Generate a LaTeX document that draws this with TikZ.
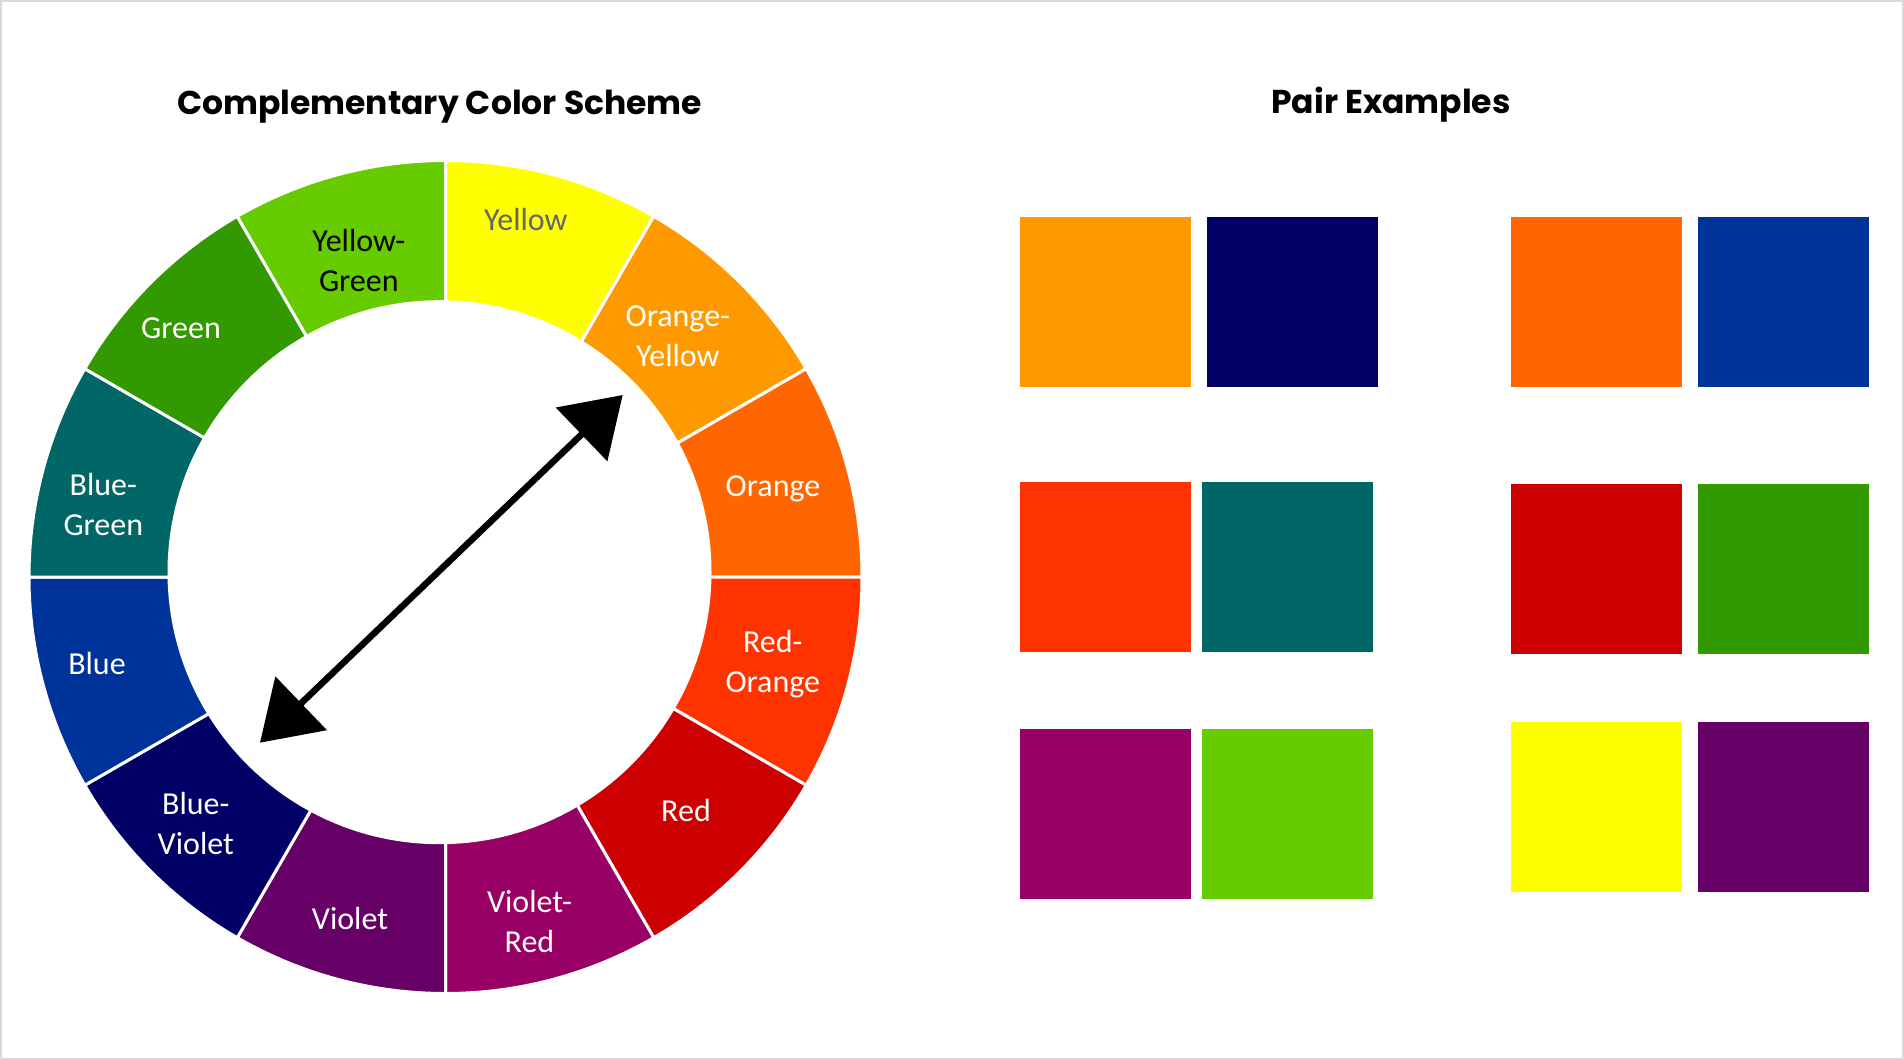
\documentclass[tikz,border=0pt]{standalone}
\usepackage{fontspec}
\setmainfont{Carlito}
\newfontfamily\titrefont{Poppins}
\usetikzlibrary{arrows.meta}

\definecolor{cadre}{HTML}{D9D9D9}
\definecolor{jaune}{HTML}{FFFF00}
\definecolor{orangejaune}{HTML}{FF9900}
\definecolor{orange}{HTML}{FF6600}
\definecolor{rougeorange}{HTML}{FF3300}
\definecolor{rouge}{HTML}{CC0000}
\definecolor{violetrouge}{HTML}{990066}
\definecolor{violet}{HTML}{660066}
\definecolor{bleuviolet}{HTML}{000066}
\definecolor{bleu}{HTML}{003399}
\definecolor{bleuvert}{HTML}{006666}
\definecolor{vert}{HTML}{339900}
\definecolor{jaunevert}{HTML}{66CC00}
\definecolor{grisjaune}{RGB}{100,100,110}

\tikzset{
  titre/.style={font=\titrefont\bfseries\fontsize{33}{40}\selectfont, anchor=base, inner sep=0pt},
  etiquette/.style={text=white, font=\fontsize{32}{40}\selectfont, align=center, anchor=base, inner sep=0pt},
  secteur/.style={draw=white, line width=3pt},
  carre/.style={inner sep=0pt, minimum width=170.6pt, minimum height=170pt, anchor=north west},
  fleche/.style={line width=6.5pt, {Triangle[length=57pt,width=73pt]}-{Triangle[length=57pt,width=73pt]}}
}

\begin{document}
\begin{tikzpicture}[x=1pt,y=-1pt]
\useasboundingbox (0,0) rectangle (1904,1060);

%cadre de la page
\draw[cadre, line width=2pt] (1,1) rectangle (1903,1059);

%titres
\node[titre] (titreRoue) at (439.6,114) {Complementary Color Scheme};
\node[titre] (titrePaires) at (1391,113) {Pair Examples};

%roue des couleurs
\coordinate (centre) at (445.5,577);
\coordinate (trou) at (439.5,572.2);
\begin{scope}[shift={(centre)}]
\foreach \a/\c in {90/jaune, 60/orangejaune, 30/orange, 0/rougeorange,
                   -30/rouge, -60/violetrouge, -90/violet, -120/bleuviolet,
                   -150/bleu, -180/bleuvert, -210/vert, -240/jaunevert}
  \filldraw[secteur, fill=\c] (0,0) -- (-\a:416.5)
    arc[start angle=-\a, end angle=-\a+30, radius=416.5] -- cycle;
\end{scope}
%trou central
\fill[white] (trou) circle (272);

%noms des secteurs
\node[etiquette, text=grisjaune] (eJaune) at (525.8,230) {Yellow};
\node[etiquette] (eOrangeJaune) at (677.8,366.7) {Orange-\\Yellow};
\node[etiquette] (eOrange) at (773,496.7) {Orange};
\node[etiquette] (eRougeOrange) at (772.8,692.7) {Red-\\Orange};
\node[etiquette] (eRouge) at (686,821.7) {Red};
\node[etiquette] (eVioletRouge) at (529.5,952.7) {Violet-\\Red};
\node[etiquette] (eViolet) at (350,929.3) {Violet};
\node[etiquette] (eBleuViolet) at (195.8,854) {Blue-\\Violet};
\node[etiquette] (eBleu) at (97,674) {Blue};
\node[etiquette] (eBleuVert) at (103.3,535) {Blue-\\Green};
\node[etiquette] (eVert) at (181,338.3) {Green};
\node[etiquette, text=black] (eJauneVert) at (358.8,291.7) {Yellow-\\Green};

%fleche entre complementaires
\coordinate (pointeOJ) at (622.7,395);
\coordinate (pointeBV) at (260,742.7);
\draw[fleche] (pointeBV) -- (pointeOJ);

%paires
\node[carre, fill=orangejaune] (p1a) at (1020.2,217) {};
\node[carre, fill=bleuviolet] (p1b) at (1207,217) {};
\node[carre, fill=orange] (p2a) at (1510.8,217) {};
\node[carre, fill=bleu] (p2b) at (1698.2,217) {};

\node[carre, fill=rougeorange] (p3a) at (1020.2,482) {};
\node[carre, fill=bleuvert] (p3b) at (1201.8,482) {};
\node[carre, fill=rouge] (p4a) at (1510.8,484) {};
\node[carre, fill=vert] (p4b) at (1698.2,484) {};

\node[carre, fill=violetrouge] (p5a) at (1020.2,729) {};
\node[carre, fill=jaunevert] (p5b) at (1201.8,729) {};
\node[carre, fill=jaune] (p6a) at (1510.8,722) {};
\node[carre, fill=violet] (p6b) at (1698.2,722) {};

\end{tikzpicture}
\end{document}
